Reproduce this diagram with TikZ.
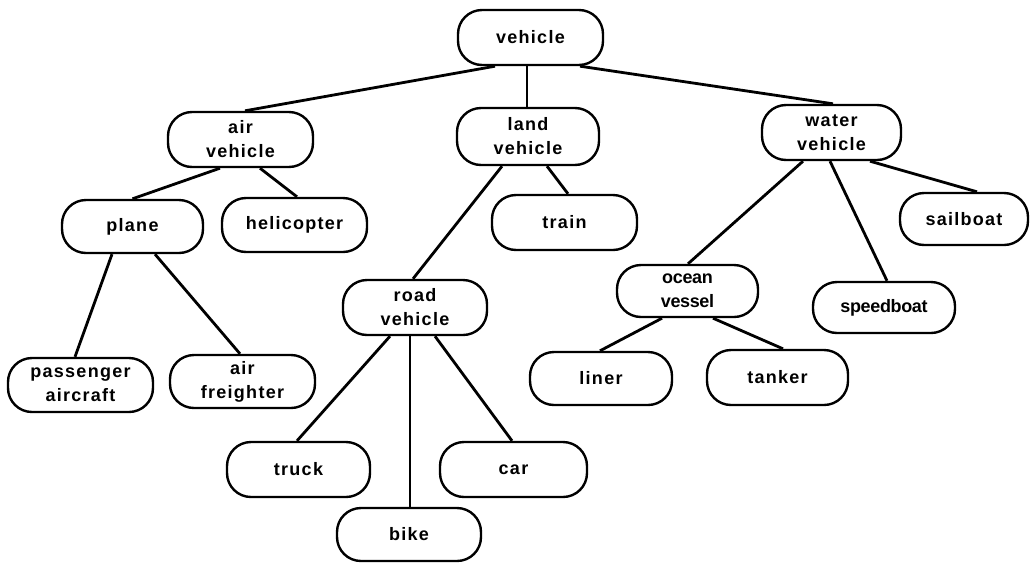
\documentclass[tikz,border=0pt]{standalone}
\usepackage{fontspec}
\setmainfont{Liberation Sans}[LetterSpace=7]
\newfontfamily\tightfont{Liberation Sans}[LetterSpace=-2]
\usetikzlibrary{calc}
\tikzset{
  box/.style={draw, line width=2.4pt, rounded corners=24pt, inner sep=0pt,
    minimum width=143pt, minimum height=54pt, align=center,
    font=\bfseries\fontsize{18}{24}\selectfont},
  tight/.style={font=\tightfont\bfseries\fontsize{18}{24}\selectfont},
  link/.style={line width=2.8pt}
}
\begin{document}
\begin{tikzpicture}[x=1pt,y=-1pt]
\useasboundingbox (0,0) rectangle (1030,563);
\node[box, minimum width=145pt, minimum height=55pt] (veh) at (530.5,37.5) {vehicle};
\node[box, minimum width=145pt, minimum height=55pt] (air) at (240.5,139.5) {air\\vehicle};
\node[box, minimum width=142pt, minimum height=57pt] (land) at (528,136.5) {land\\vehicle};
\node[box, minimum width=139pt, minimum height=55pt] (water) at (831.5,132.5) {water\\vehicle};
\node[box, minimum width=141pt, minimum height=53pt] (plane) at (132.5,226.5) {plane};
\node[box, minimum width=145pt, minimum height=54pt] (heli) at (294.5,225) {helicopter};
\node[box, minimum width=145pt, minimum height=55pt] (train) at (564.5,222.5) {train};
\node[box, minimum width=128pt, minimum height=52pt] (sail) at (964,219) {sailboat};
\node[box, minimum width=144pt, minimum height=55pt] (road) at (415,307.5) {road\\vehicle};
\node[box, tight, minimum width=141pt, minimum height=52pt] (ocean) at (687.5,291) {ocean\\vessel};
\node[box, tight, minimum width=142pt, minimum height=51pt] (speed) at (884,307.5) {speedboat};
\node[box, minimum width=145pt, minimum height=54pt] (pass) at (80.5,385) {passenger\\aircraft};
\node[box, minimum width=145pt, minimum height=53pt] (freight) at (242.5,381.5) {air\\freighter};
\node[box, minimum width=142pt, minimum height=53pt] (liner) at (601,378.5) {liner};
\node[box, minimum width=141pt, minimum height=55pt] (tanker) at (777.5,377.5) {tanker};
\node[box, minimum width=143pt, minimum height=55pt] (truck) at (298.5,469.5) {truck};
\node[box, minimum width=147pt, minimum height=55pt] (car) at (513.5,469.5) {car};
\node[box, minimum width=144pt, minimum height=53pt] (bike) at (409,534.5) {bike};

\draw[link] ($(veh.south)+(-35.5,0)$) -- ($(air.north)+(4.5,0)$);
\draw[link] ($(veh.south)+(-3.5,0)$) -- ($(land.north)+(-1,0)$);
\draw[link] ($(veh.south)+(49.5,0)$) -- ($(water.north)+(1.5,0)$);
\draw[link] ($(air.south)+(-20.5,0)$) -- ($(plane.north)+(0,0)$);
\draw[link] ($(air.south)+(19.5,0)$) -- ($(heli.north)+(2.5,0)$);
\draw[link] ($(land.south)+(19,0)$) -- ($(train.north)+(3.5,0)$);
\draw[link] ($(land.south)+(-26,0)$) -- ($(road.north)+(-2,0)$);
\draw[link] ($(water.south)+(-28.5,0)$) -- ($(ocean.north)+(0.5,0)$);
\draw[link] ($(water.south)+(-1.5,0)$) -- ($(speed.north)+(3,0)$);
\draw[link] ($(water.south)+(38.5,0)$) -- ($(sail.north)+(13,0)$);
\draw[link] ($(plane.south)+(-20.5,0)$) -- ($(pass.north)+(-5.5,0)$);
\draw[link] ($(plane.south)+(22.5,0)$) -- ($(freight.north)+(-2.5,0)$);
\draw[link] ($(road.south)+(-25,0)$) -- ($(truck.north)+(-1.5,0)$);
\draw[link] ($(road.south)+(-5,0)$) -- ($(bike.north)+(1,0)$);
\draw[link] ($(road.south)+(20,0)$) -- ($(car.north)+(-1.5,0)$);
\draw[link] ($(ocean.south)+(-25.5,0)$) -- ($(liner.north)+(-1,0)$);
\draw[link] ($(ocean.south)+(25.5,0)$) -- ($(tanker.north)+(5.5,0)$);
\end{tikzpicture}
\end{document}
